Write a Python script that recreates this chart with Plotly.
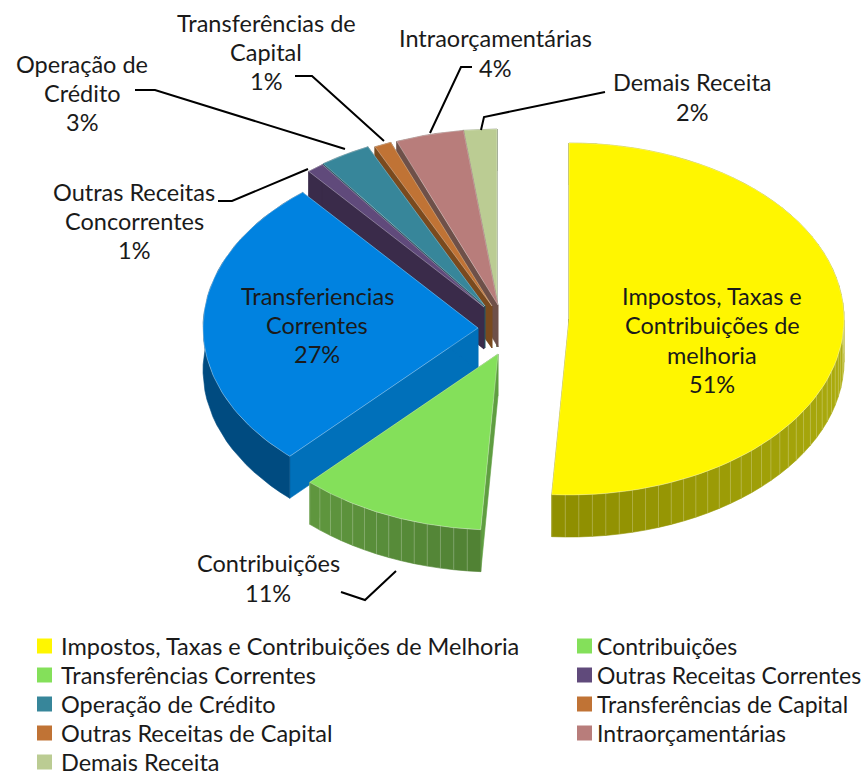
import math
import plotly.graph_objects as go

# ---- data ----
legend_labels = ["Impostos, Taxas e Contribuições de Melhoria", "Contribuições", "Transferências Correntes",
                 "Outras Receitas Correntes", "Operação de Crédito", "Transferências de Capital",
                 "Outras Receitas de Capital", "Intraorçamentárias", "Demais Receita"]
values = [51, 11, 27, 1, 3, 1, 0, 4, 2]
slice_labels = ["Impostos, Taxas e<br>Contribuições de<br>melhoria", "Contribuições", "Transferiencias<br>Correntes",
                "Outras Receitas<br>Concorrentes", "Operação de<br>Crédito", "Transferências de<br>Capital",
                "", "Intraorçamentárias", "Demais Receita"]
top_colors = ["#FFF600", "#84E05A", "#0082E0", "#604A7B", "#37869A", "#C07335", "#C07335", "#B87D7B", "#BBCC93"]
legend_colors = ["#FFF600", "#84E05A", "#84E05A", "#604A7B", "#37869A", "#C07335", "#C07335", "#B87D7B", "#BBCC93"]

# ---- layout of the exploded pie (pixels) ----
apex = [(569, 319), (498, 354), (478, 328), (484, 307), (485, 306), (492, 306), (492, 306), (498, 305), (497, 305)]
RX, RY, DEPTH = 275, 176, 42
wall_a = ["#8F8F00", "#4F7F33", "#004B80", "#3A2B4A", "#245A69", "#7A4A1E", "#7A4A1E", "#6E5049", "#5F6E48"]
wall_b = ["#B0B010", "#60983F", "#00568F", "#3A2B4A", "#245A69", "#7A4A1E", "#7A4A1E", "#6E5049", "#5F6E48"]
inner = ["#8F8F00", "#5F9E41", "#0070BA", "#3A2B4A", "#245A69", "#7A4A1E", "#7A4A1E", "#6E5049", "#5F6E48"]
paint_order = [8, 7, 5, 4, 3, 2, 1, 0]
ribbed = {0, 1}
FACET = 2.8

label_pos = [(712, 340), (268, 578), (317, 325), (134, 221), (82, 93), (266, 52), None, (495, 53), (692, 97)]
leaders = [
    [(396, 571), (365, 600), (341, 592)],
    [(135, 90), (155, 90), (345, 149)],
    [(295, 76), (312, 76), (384, 141)],
    [(472, 67), (461, 67), (430, 133)],
    [(605, 92), (484, 117), (481, 130)],
    [(218, 201), (232, 201), (308, 169)],
]
legend_x = [37, 577]
legend_text_x = [61, 597]
legend_size = [23.5, 23]
legend_y = [646, 675, 704, 733, 762]
legend_slots = [(0, 0), (1, 0), (0, 1), (1, 1), (0, 2), (1, 2), (0, 3), (1, 3), (0, 4)]

FONT = "Lato"
SIZE = 23.5
LINE = 29.3
INK = "#1A1A1A"

fig = go.Figure()


def poly(xy, fill, line=None, width=0.6):
    xs = [p[0] for p in xy] + [xy[0][0]]
    ys = [p[1] for p in xy] + [xy[0][1]]
    fig.add_trace(go.Scatter(x=xs, y=ys, mode="lines", fill="toself", fillcolor=fill,
                             line=dict(color=line or fill, width=width), hoverinfo="skip", showlegend=False))


def rim(c, deg):
    a = math.radians(deg)
    return (c[0] + RX * math.sin(a), c[1] - RY * math.cos(a))


def down(p):
    return (p[0], p[1] + DEPTH)


def mix(c1, c2, t):
    a = [int(c1[i:i + 2], 16) for i in (1, 3, 5)]
    b = [int(c2[i:i + 2], 16) for i in (1, 3, 5)]
    return "#%02X%02X%02X" % tuple(round(x + (y - x) * t) for x, y in zip(a, b))


total = sum(values)
cum = 0
spans = []
for v in values:
    spans.append((cum * 360 / total, (cum + v) * 360 / total))
    cum += v

for i in paint_order:
    c = apex[i]
    a0, a1 = spans[i]
    # radial cut faces
    for e in (a0, a1):
        r = rim(c, e)
        poly([c, r, down(r), down(c)], inner[i])
    # outer wall, in facets
    n = max(1, int((a1 - a0) / FACET))
    steps = [a0 + (a1 - a0) * k / n for k in range(n + 1)]
    if i not in ribbed:
        pts = [rim(c, s) for s in steps]
        poly(pts + [down(p) for p in reversed(pts)], wall_a[i])
    else:
        rib_x, rib_y = [], []
        for k in range(n):
            p, q = rim(c, steps[k]), rim(c, steps[k + 1])
            # gradient runs from the lowest point of the rim outwards
            t = abs(((steps[k] + steps[k + 1]) / 2) - 180) / 90
            col = mix(wall_a[i], wall_b[i], min(t * (1 if i == 0 else 2), 1))
            poly([p, q, down(q), down(p)], col)
            rib_x += [q[0], q[0], None]
            rib_y += [q[1], q[1] + DEPTH, None]
        fig.add_trace(go.Scatter(x=rib_x, y=rib_y, mode="lines", hoverinfo="skip", showlegend=False,
                                 line=dict(color="rgba(255,255,255,0.22)", width=1)))
    # top face
    arc = [rim(c, a0 + (a1 - a0) * k / 80) for k in range(81)]
    poly([c] + arc, top_colors[i], line="rgba(255,255,255,0.45)", width=0.7)

for pts in leaders:
    fig.add_trace(go.Scatter(x=[p[0] for p in pts], y=[p[1] for p in pts], mode="lines",
                             line=dict(color="#000000", width=2), hoverinfo="skip", showlegend=False))

for i, pos in enumerate(label_pos):
    if pos is None:
        continue
    lines = slice_labels[i].split("<br>") + [f"{values[i]}%"]
    for j, text in enumerate(lines):
        fig.add_annotation(x=pos[0], y=pos[1] + (j - (len(lines) - 1) / 2) * LINE, text=text, showarrow=False,
                           xanchor="center", yanchor="middle", align="center",
                           font=dict(family=FONT, size=SIZE, color=INK))

for name, col, (cx, row) in zip(legend_labels, legend_colors, legend_slots):
    fig.add_trace(go.Scatter(x=[legend_x[cx] + 7.5], y=[legend_y[row]], mode="markers", hoverinfo="skip",
                             showlegend=False, marker=dict(symbol="square", size=15, color=col, line=dict(width=0))))
    fig.add_annotation(x=legend_text_x[cx] - 2, y=legend_y[row], text=name, showarrow=False, xanchor="left",
                       yanchor="middle", font=dict(family=FONT, size=legend_size[cx], color=INK))

fig.update_layout(width=862, height=776, margin=dict(l=0, r=0, t=0, b=0), paper_bgcolor="white",
                  plot_bgcolor="white", showlegend=False,
                  xaxis=dict(range=[0, 862], visible=False, fixedrange=True),
                  yaxis=dict(range=[776, 0], visible=False, fixedrange=True))
fig.write_html("out.html", config=dict(displayModeBar=False),
               post_script="document.body.style.margin='0';"
                           "document.documentElement.style.overflow='hidden';")
